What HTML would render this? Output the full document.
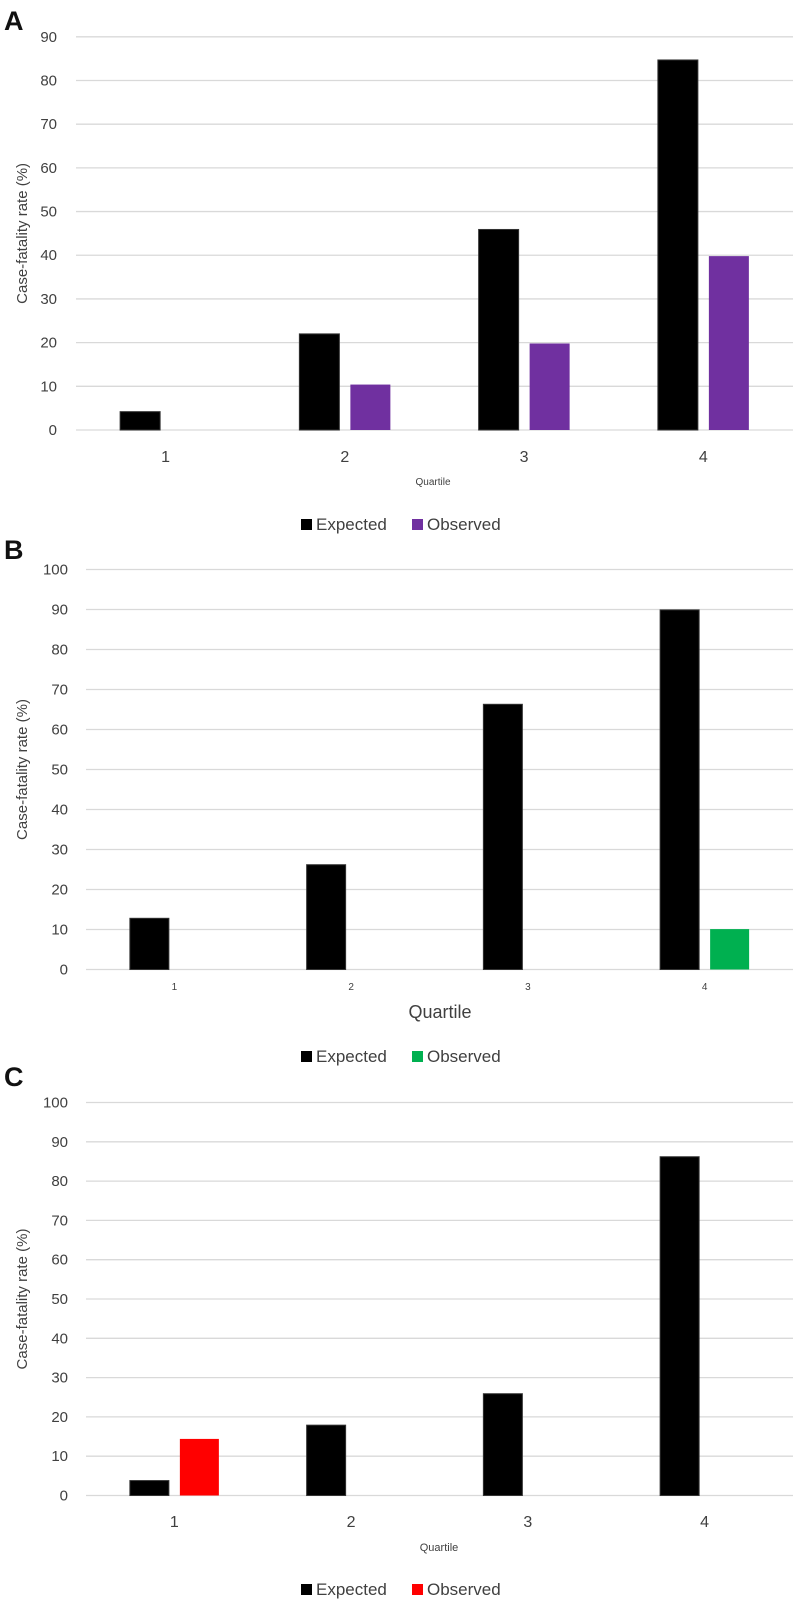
<!DOCTYPE html>
<html><head><meta charset="utf-8"><style>
html,body{margin:0;padding:0;background:#fff;}
svg{display:block;font-family:"Liberation Sans",sans-serif;}
</style></head><body>
<svg id="fig" width="800" height="1606" viewBox="0 0 800 1606"></svg>
<script>
const categories = ["1","2","3","4"];
const expectedA = [4.2, 22.0, 45.9, 84.7];
const observedA = [0, 10.4, 19.8, 39.8];
const expectedB = [12.8, 26.2, 66.3, 89.9];
const observedB = [0, 0, 0, 10.1];
const expectedC = [3.8, 17.9, 25.9, 86.2];
const observedC = [14.4, 0, 0, 0];
const ticksA = [0,10,20,30,40,50,60,70,80,90];
const ticksB = [0,10,20,30,40,50,60,70,80,90,100];
const ticksC = [0,10,20,30,40,50,60,70,80,90,100];

const NS = "http://www.w3.org/2000/svg";
const svg = document.getElementById('fig');
function mk(tag, attrs, parent){
  const e = document.createElementNS(NS, tag);
  for (const k in attrs) e.setAttribute(k, attrs[k]);
  (parent||svg).appendChild(e);
  return e;
}
function panel(cfg){
  const g = mk('g', {});
  
  
  const max = cfg.ticks[cfg.ticks.length-1];
  const y = v => cfg.y0 - (v / max) * (cfg.y0 - cfg.yTop);
  const step = (cfg.x1 - cfg.x0) / categories.length;
  const cx = i => cfg.x0 + step * (i + 0.5);
  const lt = mk('text', {x:4, y:cfg.letterY, 'font-size':27, 'font-weight':'bold', fill:'#111'}, g);
  lt.textContent = cfg.letter;
  
  
  cfg.ticks.forEach(t => {
    const ln = mk('line', {x1:cfg.x0, x2:cfg.x1, y1:y(t), y2:y(t), stroke:'#d9d9d9', 'stroke-width':1.3}, g);
    
    
    const tx = mk('text', {x:cfg.tickRight, y:y(t)+5, 'font-size':15, fill:'#404040', 'text-anchor':'end'}, g);
    tx.textContent = t;
    
    
  });
  const ymid = (cfg.y0 + cfg.yTop) / 2;
  const yt = mk('text', {x:0, y:0, 'font-size':15, fill:'#404040', 'text-anchor':'middle', transform:`translate(27,${ymid}) rotate(-90)`}, g);
  yt.textContent = 'Case-fatality rate (%)';
  
  
  categories.forEach((c, i) => {
    const e = cfg.exp[i], o = cfg.obs[i];
    if (e > 0) {
      const r = mk('rect', {x:cx(i)-cfg.bw-cfg.gap/2, y:y(e), width:cfg.bw, height:cfg.y0-y(e), fill:'#000', stroke:'#333', 'stroke-width':1}, g);
      
      
    }
    if (o > 0) {
      const r = mk('rect', {x:cx(i)+cfg.gap/2, y:y(o), width:cfg.bw, height:cfg.y0-y(o), fill:cfg.color}, g);
      
      
    }
    const xl = mk('text', {x:cx(i), y:cfg.xLabY, 'font-size':cfg.xLabSize, fill:'#404040', 'text-anchor':'middle'}, g);
    xl.textContent = c;
    
    
  });
  const xt = mk('text', {x:cfg.qx, y:cfg.qy, 'font-size':cfg.qSize, fill:'#404040', 'text-anchor':'middle'}, g);
  xt.textContent = 'Quartile';
  
  
  const lg = mk('g', {}, g);
  
  
  const s1 = mk('rect', {x:301, y:cfg.legY-11, width:11, height:11, fill:'#000'}, lg);
  
  
  const t1 = mk('text', {x:316, y:cfg.legY, 'font-size':17, fill:'#404040'}, lg);
  t1.textContent = 'Expected';
  
  
  const s2 = mk('rect', {x:412, y:cfg.legY-11, width:11, height:11, fill:cfg.color}, lg);
  
  
  const t2 = mk('text', {x:427, y:cfg.legY, 'font-size':17, fill:'#404040'}, lg);
  t2.textContent = 'Observed';
  
  
}
panel({letter:'A', letterY:30, ticks:ticksA, exp:expectedA, obs:observedA, color:'#7030a0',
  x0:76, x1:793, yTop:36.8, y0:430, tickRight:57, bw:40, gap:11,
  xLabY:462, xLabSize:16, qx:433, qy:485, qSize:10, legY:530});
panel({letter:'B', letterY:559, ticks:ticksB, exp:expectedB, obs:observedB, color:'#00b050',
  x0:86, x1:793, yTop:569.5, y0:969.5, tickRight:68, bw:39, gap:11,
  xLabY:990, xLabSize:10, qx:440, qy:1018, qSize:18, legY:1062});
panel({letter:'C', letterY:1086, ticks:ticksC, exp:expectedC, obs:observedC, color:'#ff0000',
  x0:86, x1:793, yTop:1102.5, y0:1495.5, tickRight:68, bw:39, gap:11,
  xLabY:1527, xLabSize:16, qx:439, qy:1551, qSize:11, legY:1595});
</script>
</body></html>
